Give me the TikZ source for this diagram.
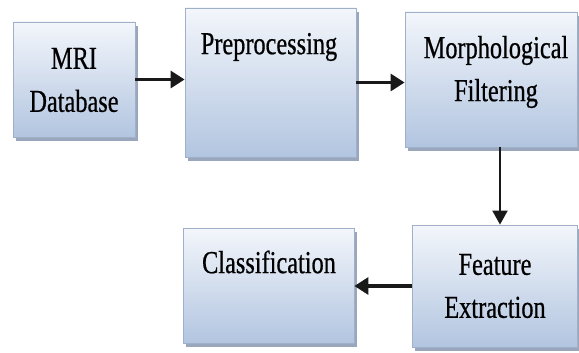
\documentclass[tikz,border=0pt]{standalone}
\usepackage{fontspec}
\newfontfamily\boxfont[FakeStretch=0.76,FakeBold=0.6]{Liberation Serif}
\usetikzlibrary{shadows,arrows.meta}
\definecolor{boxtop}{HTML}{F3F6FB}
\definecolor{boxbot}{HTML}{B2C5E0}
\definecolor{boxline}{HTML}{9FB0C8}
\definecolor{shad}{HTML}{8E9DB5}
\tikzset{
  procbox/.style={rectangle, draw=boxline, line width=0.8pt, top color=boxtop, bottom color=boxbot,
    drop shadow={shadow xshift=3pt, shadow yshift=-4pt, fill=shad, opacity=0.9}, inner sep=0pt},
  boxtext/.style={font=\boxfont\fontsize{32}{43}\selectfont, align=center, text=black, inner sep=0pt},
  flow/.style={line width=3.2pt, draw=black!90, -{Triangle[length=14pt,width=17pt]}},
  flowthin/.style={line width=2pt, draw=black!90, -{Triangle[length=14pt,width=15pt]}}
}
\begin{document}
\begin{tikzpicture}[x=1pt,y=-1pt]
\useasboundingbox (0,0) rectangle (579,353);
\fill[white] (0,0) rectangle (579,353);
\node[procbox, minimum width=122pt, minimum height=115pt] (mri) at (74,79.5) {};
\node[procbox, minimum width=171pt, minimum height=149pt] (pre) at (270.5,82.5) {};
\node[procbox, minimum width=172pt, minimum height=135pt] (mor) at (491,79.5) {};
\node[procbox, minimum width=165pt, minimum height=122pt] (fea) at (494.5,286) {};
\node[procbox, minimum width=171pt, minimum height=115pt] (cla) at (268.5,285.5) {};
\node[boxtext] (tmri) at (74,80) {MRI\\Database};
\node[boxtext] (tpre) at (269,47) {Preprocessing};
\node[boxtext] (tmor) at (496,72) {Morphological\\Filtering};
\node[boxtext] (tfea) at (495,286) {Feature\\Extraction};
\node[boxtext] (tcla) at (269,262) {Classification};
\draw[flow] (mri.east) -- (mri.east -| pre.west);
\draw[flow] (pre.east) -- (pre.east -| mor.west);
\draw[flowthin] ([xshift=9pt]mor.south) -- ([xshift=9pt]mor.south |- fea.north);
\draw[flow] (fea.west) -- (fea.west -| cla.east);
\end{tikzpicture}
\end{document}
